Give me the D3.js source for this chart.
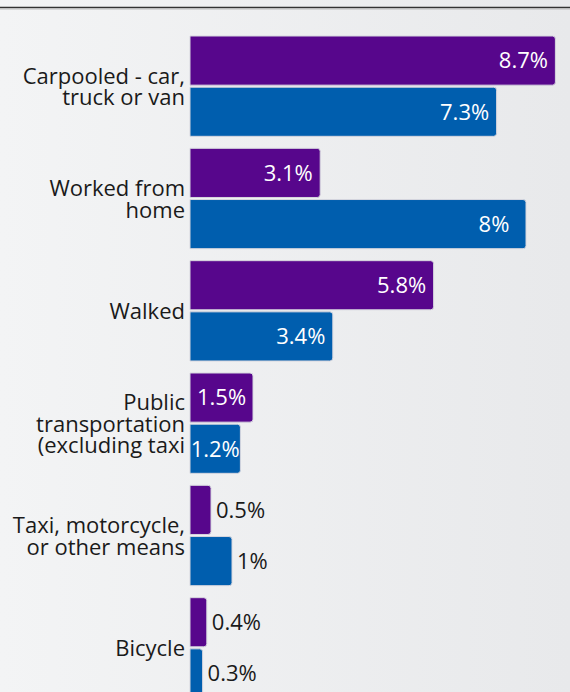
<!DOCTYPE html>
<html>
<head>
<meta charset="utf-8">
<script src="https://cdn.jsdelivr.net/npm/d3@7"></script>
<style>
  html, body { margin: 0; padding: 0; }
  body { width: 570px; height: 692px; overflow: hidden; }
  svg { display: block; font-family: "Open Sans", "Noto Sans", sans-serif; }
</style>
</head>
<body>
<svg id="chart" width="570" height="692"></svg>
<script>
const categories = [
  "Carpooled - car,\ntruck or van",
  "Worked from\nhome",
  "Walked",
  "Public\ntransportation\n(excluding taxi",
  "Taxi, motorcycle,\nor other means",
  "Bicycle",
];
const purpleValues = [8.7, 3.1, 5.8, 1.5, 0.5, 0.4];
const blueValues = [7.3, 8, 3.4, 1.2, 1, 0.3];
const subgroups = ["purple", "blue"];

const width = 570;
const height = 692;

const svg = d3.select("#chart");

// background
const grad = svg.append("defs").append("linearGradient")
  .attr("id", "bg")
  .attr("x1", "0%").attr("x2", "100%")
  .attr("y1", "0%").attr("y2", "0%");
grad.append("stop").attr("offset", "0%").attr("stop-color", "#f3f4f5");
grad.append("stop").attr("offset", "100%").attr("stop-color", "#e8e9eb");
svg.append("rect")
  .attr("width", width).attr("height", height)
  .attr("fill", "url(#bg)");

// top rule
svg.append("line")
  .attr("x1", 0).attr("x2", width)
  .attr("y1", 7.5).attr("y2", 7.5)
  .attr("stroke", "#333").attr("stroke-width", 1.5);
svg.append("line")
  .attr("x1", 0).attr("x2", width)
  .attr("y1", 9).attr("y2", 9)
  .attr("stroke", "#bbb").attr("stroke-width", 1);

const data = categories.map((c, i) => ({
  cat: c,
  purple: purpleValues[i],
  blue: blueValues[i],
}));

// scales
const x = d3.scaleLinear().domain([0, 9]).range([190, 568]);
const y = d3.scaleBand()
  .domain(categories)
  .range([30, 704])
  .paddingInner(0.107)
  .paddingOuter(0.0535);
const ySub = d3.scaleBand()
  .domain(subgroups)
  .range([0, y.bandwidth()])
  .paddingInner(0.04);
const color = d3.scaleOrdinal()
  .domain(subgroups)
  .range(["#57068c", "#005eae"]);

// bar with rounded right corners only
function barPath(x0, y0, w, h, r) {
  r = Math.min(r, w, h / 2);
  return `M${x0},${y0}H${x0 + w - r}Q${x0 + w},${y0} ${x0 + w},${y0 + r}` +
    `V${y0 + h - r}Q${x0 + w},${y0 + h} ${x0 + w - r},${y0 + h}H${x0}Z`;
}

const groups = svg.append("g")
  .selectAll("g")
  .data(data)
  .enter()
  .append("g")
  .attr("transform", (d) => `translate(0,${y(d.cat)})`);

const bars = groups.selectAll("g")
  .data((d) => subgroups.map((key) => ({ key, value: d[key] })))
  .enter()
  .append("g");

bars.append("path")
  .attr("d", (d) => barPath(x(0), ySub(d.key), x(d.value) - x(0), ySub.bandwidth(), 3))
  .attr("fill", (d) => color(d.key))
  .attr("stroke", "#d6d6de")
  .attr("stroke-width", 1);

// value labels
bars.append("text")
  .attr("x", (d) => {
    const end = x(d.value);
    const w = end - x(0);
    if (w > 45) return Math.max(end - 32, (x(0) + end) / 2);
    return end + 5;
  })
  .attr("y", (d) => ySub(d.key) + ySub.bandwidth() / 2)
  .attr("dy", "0.36em")
  .attr("text-anchor", (d) => (x(d.value) - x(0) > 45 ? "middle" : "start"))
  .attr("fill", (d) => (x(d.value) - x(0) > 45 ? "#ffffff" : "#1a1a1a"))
  .attr("font-size", 22)
  .text((d) => d.value + "%");

// category axis
const yAxis = svg.append("g")
  .attr("transform", `translate(${x(0)},0)`)
  .call(d3.axisLeft(y).tickSize(0).tickPadding(5));
yAxis.select(".domain").remove();
yAxis.selectAll(".tick text").each(function (d) {
  const lines = d.split("\n");
  const lh = 21.5;
  const t = d3.select(this)
    .attr("font-size", 22)
    .attr("fill", "#1a1a1a")
    .attr("font-family", "'Open Sans', 'Noto Sans', sans-serif")
    .attr("dy", null)
    .text(null);
  const first = 8.5 - (lines.length - 1) * lh / 2;
  lines.forEach((line, i) => {
    t.append("tspan")
      .attr("x", -5)
      .attr("y", first + i * lh)
      .text(line);
  });
});
</script>
</body>
</html>
